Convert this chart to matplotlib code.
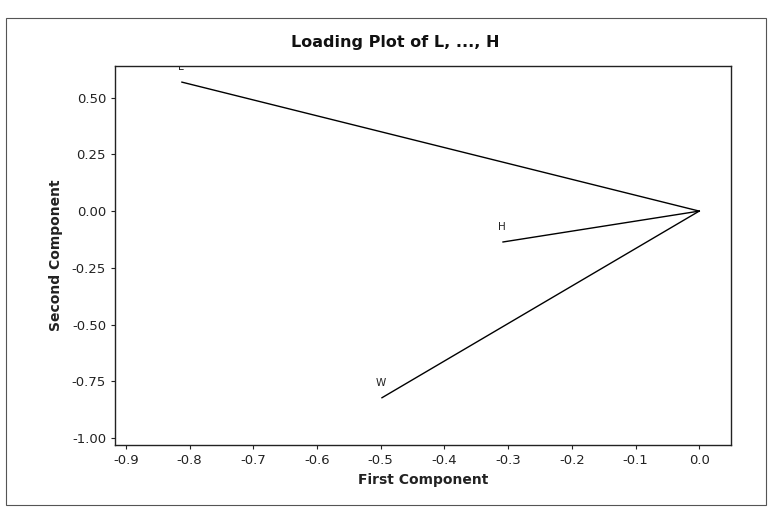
import matplotlib
matplotlib.use("Agg")
import matplotlib.pyplot as plt
from matplotlib.patches import Rectangle
from matplotlib.ticker import FormatStrFormatter

plt.rcParams['font.family'] = ['DejaVu Sans']
plt.rcParams['axes.unicode_minus'] = False

variables = ["L", "W", "H"]
first_component = [-0.812, -0.498, -0.308]
second_component = [0.568, -0.822, -0.136]

x_ticks = [-0.9, -0.8, -0.7, -0.6, -0.5, -0.4, -0.3, -0.2, -0.1, 0.0]
y_ticks = [-1.00, -0.75, -0.50, -0.25, 0.00, 0.25, 0.50]

fig = plt.figure(figsize=(7.72, 5.18), dpi=100)
fig.patch.set_facecolor("white")
ax = fig.add_axes([0.149, 0.141, 0.798, 0.732])

for name, x, y in zip(variables, first_component, second_component):
    ax.plot([0, x], [0, y], color="black", linewidth=1.0)
    ax.annotate(name, xy=(x, y), xytext=(-1, 7), textcoords="offset points",
                ha="center", va="bottom", fontsize=7.5, color="#222222",
                annotation_clip=False, clip_on=True)

ax.set_xlim(-0.917, 0.050)
ax.set_ylim(-1.03, 0.64)
ax.set_xticks(x_ticks)
ax.set_yticks(y_ticks)
ax.xaxis.set_major_formatter(FormatStrFormatter("%.1f"))
ax.yaxis.set_major_formatter(FormatStrFormatter("%.2f"))
ax.tick_params(direction="out", length=3, width=0.8, labelsize=9.5, colors="#222222")
for s in ax.spines.values():
    s.set_linewidth(1.0)
    s.set_color("#222222")

ax.set_xlabel("First Component", fontsize=10, fontweight="bold", color="#222222", labelpad=4)
ax.set_ylabel("Second Component", fontsize=10, fontweight="bold", color="#222222", labelpad=6)
fig.text(0.512, 0.918, "Loading Plot of L, ..., H", ha="center", va="center",
         fontsize=11.5, fontweight="bold", color="#111111")

fig.patches.append(Rectangle((0.008, 0.025), 0.984, 0.94, transform=fig.transFigure,
                             fill=False, edgecolor="#555555", linewidth=0.8))

fig.savefig("out.png", dpi=100)
